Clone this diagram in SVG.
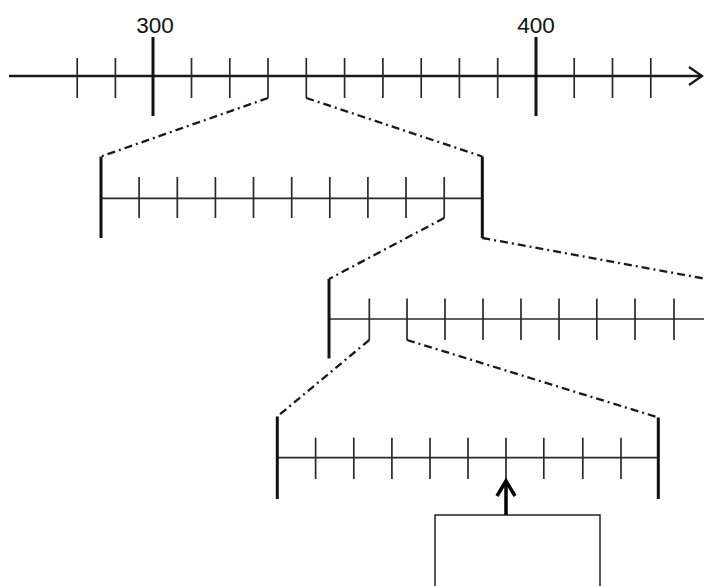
<svg xmlns="http://www.w3.org/2000/svg" width="704" height="586" viewBox="0 0 704 586">
  <style>
    .axis { stroke: #1a1a1a; stroke-width: 2.3; fill: none; }
    .line { stroke: #2a2a2a; stroke-width: 1.7; fill: none; }
    .tick { stroke: #2a2a2a; stroke-width: 1.7; }
    .major { stroke: #111; stroke-width: 3; }
    .bracket { stroke: #111; stroke-width: 3; }
    .zoom { stroke: #1a1a1a; stroke-width: 2.3; fill: none; stroke-dasharray: 8 4 2 4; }
    .pointer { stroke: #000; stroke-width: 3.5; fill: none; }
    .label { font-family: "Liberation Sans", Arial, sans-serif; font-size: 22.5px; fill: #111; text-anchor: middle; }
  </style>

  <!-- top scale: 300 .. 400 -->
  <g id="scale-main">
    <line class="axis" x1="9" y1="76" x2="702" y2="76"/>
    <polyline class="axis" points="689,67 702,76 689,85"/>
    <g class="tick">
      <line x1="77.2" y1="58" x2="77.2" y2="98"/>
      <line x1="115.4" y1="58" x2="115.4" y2="98"/>
      <line x1="191.5" y1="58" x2="191.5" y2="98"/>
      <line x1="229.8" y1="58" x2="229.8" y2="98"/>
      <line x1="268" y1="58" x2="268" y2="98"/>
      <line x1="306.3" y1="58" x2="306.3" y2="98"/>
      <line x1="344.6" y1="58" x2="344.6" y2="98"/>
      <line x1="382.9" y1="58" x2="382.9" y2="98"/>
      <line x1="421.2" y1="58" x2="421.2" y2="98"/>
      <line x1="459.4" y1="58" x2="459.4" y2="98"/>
      <line x1="497.7" y1="58" x2="497.7" y2="98"/>
      <line x1="574.2" y1="58" x2="574.2" y2="98"/>
      <line x1="612.5" y1="58" x2="612.5" y2="98"/>
      <line x1="650.8" y1="58" x2="650.8" y2="98"/>
    </g>
    <line class="major" x1="153" y1="37" x2="153" y2="116"/>
    <line class="major" x1="536" y1="37" x2="536" y2="116"/>
    <text class="label" x="155" y="32.5">300</text>
    <text class="label" x="536" y="32.5">400</text>
  </g>

  <!-- first magnification -->
  <g id="scale-2">
    <line class="line" x1="101" y1="198.3" x2="482.3" y2="198.3"/>
    <g class="tick">
      <line x1="139.1" y1="177" x2="139.1" y2="218"/>
      <line x1="177.3" y1="177" x2="177.3" y2="218"/>
      <line x1="215.4" y1="177" x2="215.4" y2="218"/>
      <line x1="253.5" y1="177" x2="253.5" y2="218"/>
      <line x1="291.7" y1="177" x2="291.7" y2="218"/>
      <line x1="329.8" y1="177" x2="329.8" y2="218"/>
      <line x1="367.9" y1="177" x2="367.9" y2="218"/>
      <line x1="406" y1="177" x2="406" y2="218"/>
      <line x1="444.2" y1="177" x2="444.2" y2="218"/>
    </g>
    <line class="bracket" x1="101" y1="156.5" x2="101" y2="238"/>
    <line class="bracket" x1="482.3" y1="156.5" x2="482.3" y2="238"/>
  </g>

  <!-- second magnification -->
  <g id="scale-3">
    <line class="line" x1="329" y1="319" x2="704" y2="319"/>
    <g class="tick">
      <line x1="369.3" y1="298.5" x2="369.3" y2="340"/>
      <line x1="407" y1="298.5" x2="407" y2="340"/>
      <line x1="445" y1="298.5" x2="445" y2="340"/>
      <line x1="483" y1="298.5" x2="483" y2="340"/>
      <line x1="521" y1="298.5" x2="521" y2="340"/>
      <line x1="559" y1="298.5" x2="559" y2="340"/>
      <line x1="596.8" y1="298.5" x2="596.8" y2="340"/>
      <line x1="635" y1="298.5" x2="635" y2="340"/>
      <line x1="674" y1="298.5" x2="674" y2="340"/>
    </g>
    <line class="bracket" x1="329" y1="279" x2="329" y2="358.5"/>
  </g>

  <!-- third magnification -->
  <g id="scale-4">
    <line class="line" x1="277.3" y1="457.7" x2="658.3" y2="457.7"/>
    <g class="tick">
      <line x1="315.6" y1="437.7" x2="315.6" y2="479"/>
      <line x1="353.8" y1="437.7" x2="353.8" y2="479"/>
      <line x1="391.9" y1="437.7" x2="391.9" y2="479"/>
      <line x1="430" y1="437.7" x2="430" y2="479"/>
      <line x1="468" y1="437.7" x2="468" y2="479"/>
      <line x1="506" y1="437.7" x2="506" y2="479"/>
      <line x1="543.8" y1="437.7" x2="543.8" y2="479"/>
      <line x1="582.8" y1="437.7" x2="582.8" y2="479"/>
      <line x1="621" y1="437.7" x2="621" y2="479"/>
    </g>
    <line class="bracket" x1="277.3" y1="416.5" x2="277.3" y2="499"/>
    <line class="bracket" x1="658.3" y1="417.5" x2="658.3" y2="499"/>
  </g>

  <!-- value box -->
  <g id="value-box">
    <rect x="435" y="515" width="165" height="80" fill="#fff" stroke="#111" stroke-width="1.4"/>
  </g>

  <!-- zoom guides and pointer -->
  <g id="connectors">
    <line class="zoom" x1="268" y1="98" x2="101" y2="156.5"/>
    <line class="zoom" x1="306.3" y1="98" x2="482.3" y2="156.5"/>
    <line class="zoom" x1="444.2" y1="218" x2="329" y2="279"/>
    <line class="zoom" x1="482.3" y1="238" x2="704" y2="278.5"/>
    <line class="zoom" x1="369.3" y1="340" x2="277.3" y2="416.5"/>
    <line class="zoom" x1="407" y1="340" x2="658.3" y2="417.5"/>
    <line class="pointer" x1="506" y1="515" x2="506" y2="481"/>
    <polyline class="pointer" points="497,496 506,481 515,496"/>
  </g>
</svg>
